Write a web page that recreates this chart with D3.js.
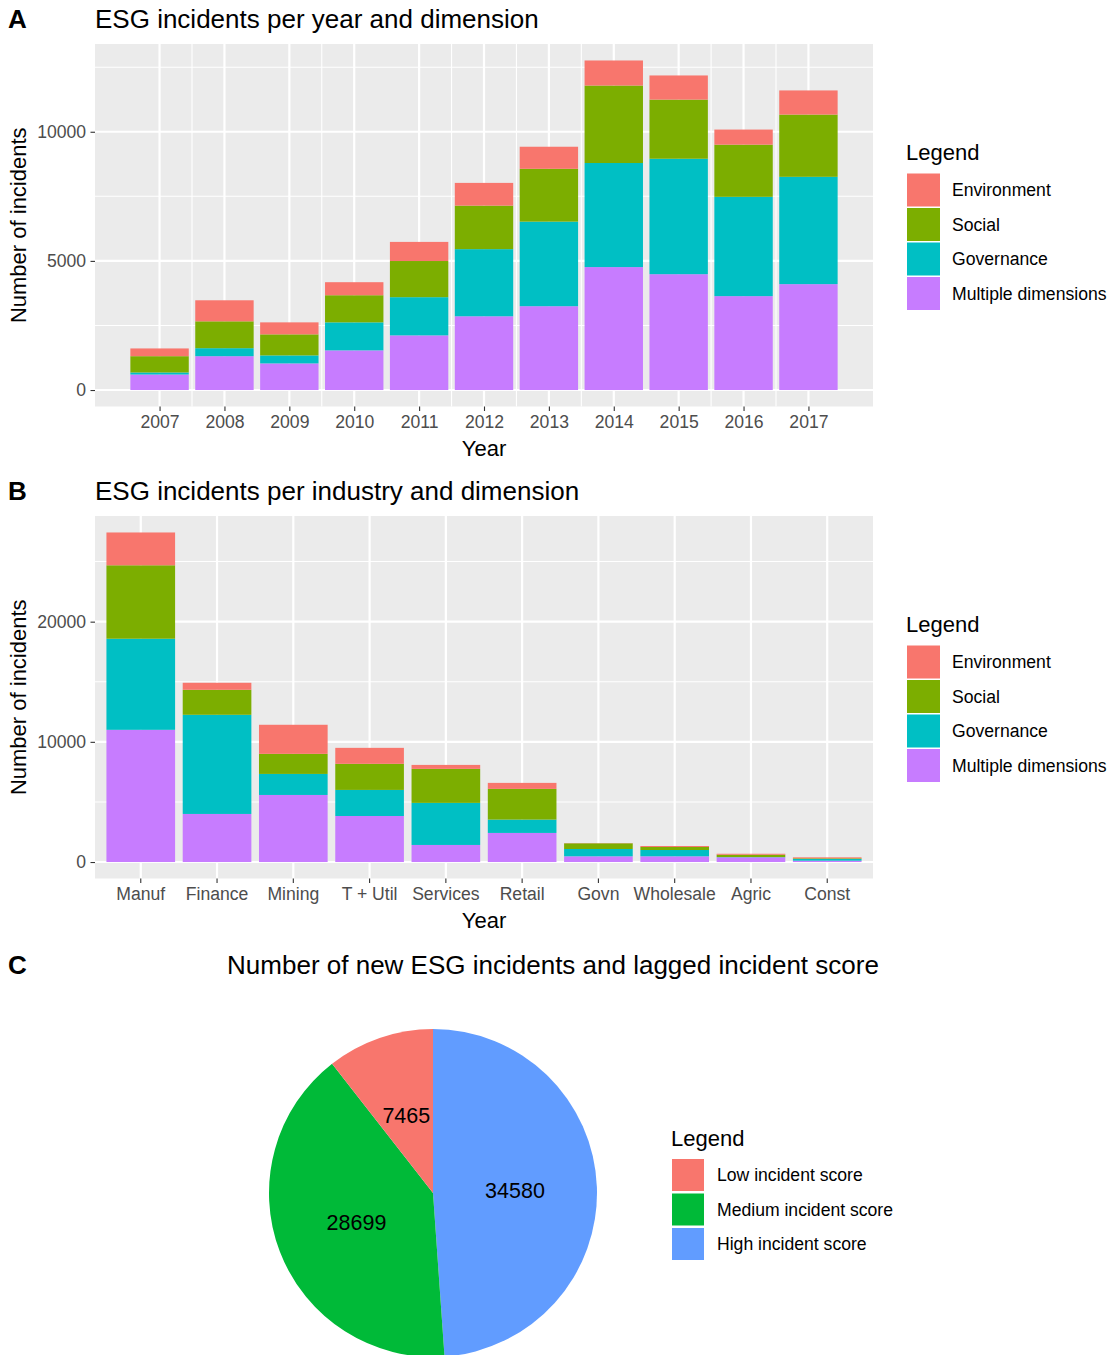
<!DOCTYPE html>
<html>
<head>
<meta charset="utf-8">
<title>ESG incidents</title>
<script src="https://d3js.org/d3.v7.min.js"></script>
<style>
  body { margin: 0; background: #fff; }
  text { font-family: "Liberation Sans", Arial, Helvetica, sans-serif; }
</style>
</head>
<body>
<svg width="1115" height="1355" id="mainSvg"></svg>
<script>
// ---- data ----
const dimensions = ["Environment", "Social", "Governance", "Multiple dimensions"];
const dimColors = ["#F8766D", "#7CAE00", "#00BFC4", "#C77CFF"];

const years = [2007, 2008, 2009, 2010, 2011, 2012, 2013, 2014, 2015, 2016, 2017];
const yearEnv   = [300, 815, 465, 505, 740, 880, 855, 970, 935, 585, 935];
const yearSoc   = [630, 1040, 815, 1050, 1400, 1685, 2045, 3000, 2290, 2020, 2410];
const yearGov   = [80, 310, 310, 1085, 1480, 2600, 3275, 4030, 4470, 3845, 4155];
const yearMulti = [600, 1310, 1030, 1535, 2115, 2855, 3245, 4760, 4485, 3635, 4100];
const yearTicks = [0, 5000, 10000];
const yearMinorY = [2500, 7500, 12500];
const yearMinorX = [2007.5, 2009.5, 2011.5, 2012.5, 2013.5, 2015.5, 2016.5];

const industries = ["Manuf", "Finance", "Mining", "T + Util", "Services", "Retail", "Govn", "Wholesale", "Agric", "Const"];
const indEnv   = [2730, 585, 2420, 1330, 330, 500, 20, 83, 83, 83];
const indSoc   = [6110, 2080, 1670, 2170, 2830, 2555, 475, 250, 192, 56];
const indGov   = [7580, 8250, 1750, 2170, 3500, 1110, 608, 525, 20, 139];
const indMulti = [11000, 4000, 5580, 3830, 1420, 2420, 475, 475, 392, 111];
const indTicks = [0, 10000, 20000];
const indMinorY = [5000, 15000, 25000];

const scoreLevels = ["Low incident score", "Medium incident score", "High incident score"];
const scoreCounts = [7465, 28699, 34580];
const scoreColors = ["#F8766D", "#00BA38", "#619CFF"];

// ---- layout ----
const svg = d3.select("#mainSvg");
const panelX = [95, 873];
const stackKeys = ["multi", "gov", "soc", "env"];
const keyColor = { env: dimColors[0], soc: dimColors[1], gov: dimColors[2], multi: dimColors[3] };

function tag(letter, title, yBase, titleX, anchor) {
  svg.append("text").attr("x", 8).attr("y", yBase)
    .attr("font-size", 26).attr("font-weight", "bold").text(letter);
  svg.append("text").attr("x", titleX).attr("y", yBase)
    .attr("font-size", 26).attr("text-anchor", anchor || "start").text(title);
}

function legend(x, yTitle, labels, colors, keyTop, step, keySize) {
  const g = svg.append("g");
  g.append("text").attr("x", x).attr("y", yTitle).attr("font-size", 22).text("Legend");
  labels.forEach((lab, i) => {
    g.append("rect").attr("x", x + 1).attr("y", keyTop + i * step)
      .attr("width", keySize).attr("height", keySize).attr("fill", colors[i]);
    g.append("text").attr("x", x + 46).attr("y", keyTop + i * step + keySize / 2)
      .attr("dy", "0.35em").attr("font-size", 17.6).attr("fill", "#000").text(lab);
  });
}

function styleAxis(ax) {
  ax.select(".domain").remove();
  ax.selectAll(".tick line").attr("stroke", "#333").attr("stroke-width", 1.1);
  ax.selectAll(".tick text").attr("font-size", 17.6).attr("fill", "#4D4D4D")
    .attr("font-family", "Liberation Sans, Arial, sans-serif");
}

function barPanel(opts) {
  const { top, bottom, rows, xPos, bw, xScale, yScale, xAxis, yTicks, minorY, minorX, majorX } = opts;
  const g = svg.append("g");
  g.append("rect").attr("x", panelX[0]).attr("y", top)
    .attr("width", panelX[1] - panelX[0]).attr("height", bottom - top).attr("fill", "#EBEBEB");

  // grid
  minorY.forEach(v => g.append("line").attr("x1", panelX[0]).attr("x2", panelX[1])
    .attr("y1", yScale(v)).attr("y2", yScale(v)).attr("stroke", "#fff").attr("stroke-width", 1.1));
  minorX.forEach(v => g.append("line").attr("y1", top).attr("y2", bottom)
    .attr("x1", v).attr("x2", v).attr("stroke", "#fff").attr("stroke-width", 1.1));
  yTicks.forEach(v => g.append("line").attr("x1", panelX[0]).attr("x2", panelX[1])
    .attr("y1", yScale(v)).attr("y2", yScale(v)).attr("stroke", "#fff").attr("stroke-width", 2.2));
  majorX.forEach(v => g.append("line").attr("y1", top).attr("y2", bottom)
    .attr("x1", v).attr("x2", v).attr("stroke", "#fff").attr("stroke-width", 2.2));

  // bars
  const series = d3.stack().keys(stackKeys)(rows);
  series.forEach(s => {
    g.selectAll(null).data(s).enter().append("rect")
      .attr("x", d => xPos(d.data) - bw / 2)
      .attr("width", bw)
      .attr("y", d => yScale(d[1]))
      .attr("height", d => yScale(d[0]) - yScale(d[1]))
      .attr("fill", keyColor[s.key]);
  });

  // axes
  const ya = g.append("g").attr("transform", `translate(${panelX[0]},0)`)
    .call(d3.axisLeft(yScale).tickValues(yTicks).tickSize(4.5).tickPadding(4.4).tickFormat(d3.format("d")));
  styleAxis(ya);
  const xa = g.append("g").attr("transform", `translate(0,${bottom})`).call(xAxis);
  styleAxis(xa);

  g.append("text").attr("x", (panelX[0] + panelX[1]) / 2).attr("y", bottom + 49)
    .attr("text-anchor", "middle").attr("font-size", 22).text("Year");
  g.append("text").attr("transform", `translate(26,${(top + bottom) / 2}) rotate(-90)`)
    .attr("text-anchor", "middle").attr("font-size", 22).text("Number of incidents");
}

// ---- panel A ----
{
  const top = 44, bottom = 406.5;
  const rows = years.map((y, i) => ({ year: y, env: yearEnv[i], soc: yearSoc[i], gov: yearGov[i], multi: yearMulti[i] }));
  const lo = d3.min(years) - 0.45, hi = d3.max(years) + 0.45, ex = (hi - lo) * 0.05;
  const xScale = d3.scaleLinear().domain([lo - ex, hi + ex]).range(panelX);
  const maxTot = d3.max(rows, d => d.env + d.soc + d.gov + d.multi);
  const yScale = d3.scaleLinear().domain([-maxTot * 0.05, maxTot * 1.05]).range([bottom, top]);
  const bw = xScale(0.9) - xScale(0);
  barPanel({
    top, bottom, rows, bw, xScale, yScale,
    xPos: d => xScale(d.year),
    xAxis: d3.axisBottom(xScale).tickValues(years).tickSize(4.5).tickPadding(4.4).tickFormat(d3.format("d")),
    yTicks: yearTicks, minorY: yearMinorY,
    minorX: yearMinorX.map(xScale), majorX: years.map(xScale)
  });
  tag("A", "ESG incidents per year and dimension", 28, 95);
  legend(906, 160, dimensions, dimColors, 173.5, 34.5, 33);
}

// ---- panel B ----
{
  const top = 516, bottom = 878.5;
  const rows = industries.map((n, i) => ({ name: n, env: indEnv[i], soc: indSoc[i], gov: indGov[i], multi: indMulti[i] }));
  const xScale = d3.scaleBand().domain(industries).range(panelX).paddingInner(0.1).paddingOuter(0.15);
  const maxTot = d3.max(rows, d => d.env + d.soc + d.gov + d.multi);
  const yScale = d3.scaleLinear().domain([-maxTot * 0.05, maxTot * 1.05]).range([bottom, top]);
  const mid = n => xScale(n) + xScale.bandwidth() / 2;
  barPanel({
    top, bottom, rows, bw: xScale.bandwidth(), xScale, yScale,
    xPos: d => mid(d.name),
    xAxis: d3.axisBottom(xScale).tickSize(4.5).tickPadding(4.4),
    yTicks: indTicks, minorY: indMinorY,
    minorX: [], majorX: industries.map(mid)
  });
  tag("B", "ESG incidents per industry and dimension", 500, 95);
  legend(906, 632, dimensions, dimColors, 645.5, 34.5, 33);
}

// ---- panel C ----
{
  tag("C", "Number of new ESG incidents and lagged incident score", 974, 553, "middle");
  const cx = 433, cy = 1193, r = 164;
  const order = [2, 1, 0];  // drawn clockwise from 12 o'clock: High, Medium, Low
  const pieData = d3.pie().sort(null).value(i => scoreCounts[i])(order);
  const arc = d3.arc().innerRadius(0).outerRadius(r);
  const g = svg.append("g").attr("transform", `translate(${cx},${cy})`);
  g.selectAll("path").data(pieData).enter().append("path")
    .attr("d", arc).attr("fill", d => scoreColors[d.data]);
  g.selectAll(".lbl").data(pieData).enter().append("text")
    .attr("class", "lbl")
    .attr("transform", d => `translate(${arc.centroid(d)})`)
    .attr("text-anchor", "middle").attr("dy", "0.35em")
    .attr("font-size", 21.5).attr("fill", "#000")
    .text(d => scoreCounts[d.data]);
  legend(671, 1146, scoreLevels, scoreColors, 1159, 34.5, 32);
}
</script>
</body>
</html>
